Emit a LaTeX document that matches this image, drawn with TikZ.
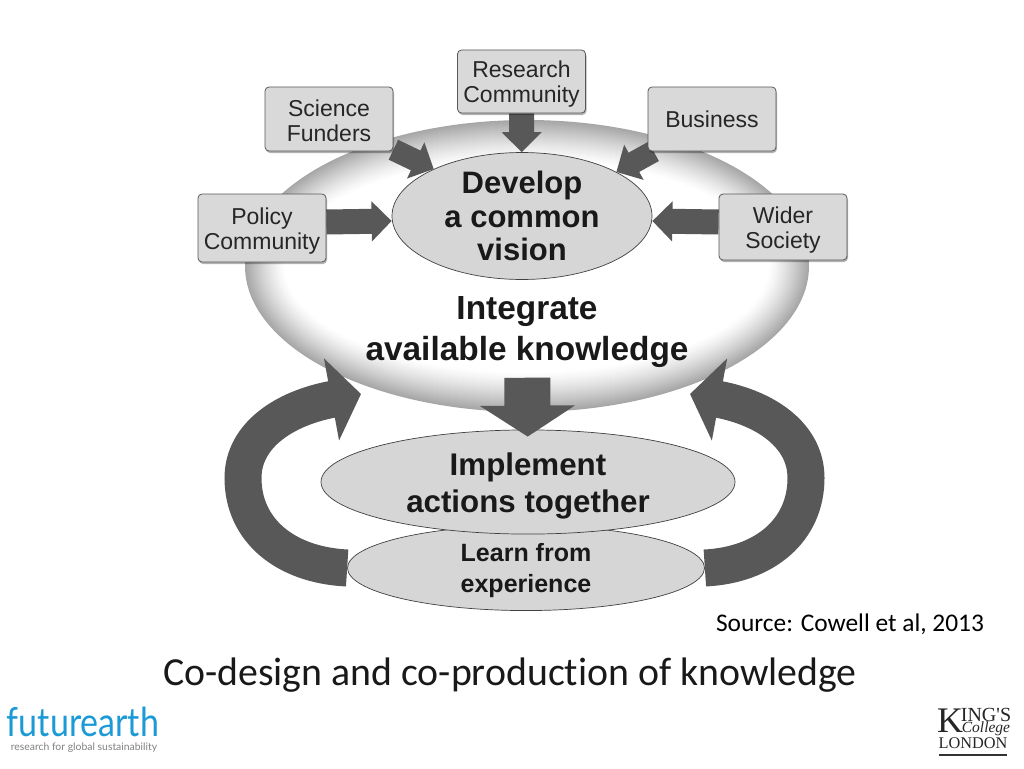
\documentclass[tikz,border=0pt]{standalone}
\usepackage{fontspec}
\setmainfont{Liberation Sans}
\newfontfamily\calibrifont[Ligatures=NoCommon]{Carlito}
\newfontfamily\logofont{Lato}
\newfontfamily\kingsfont{Liberation Serif}
\usetikzlibrary{arrows.meta,shapes.geometric,shadows,backgrounds}
\definecolor{boxgray}{HTML}{D9D9D9}
\definecolor{ovalgray}{HTML}{D6D6D6}
\definecolor{flowgray}{HTML}{585858}
\definecolor{futureblue}{HTML}{1B9AD6}
\newcommand{\firstline}[1]{\rule{0pt}{#1}}
\tikzset{
  partybox/.style={draw=black!65,fill=boxgray,rounded corners=4pt,line width=.8pt,
    minimum width=128pt,inner sep=0pt,align=center,text=black!85,
    font=\fontsize{23}{25}\selectfont,
    drop shadow={shadow xshift=1pt,shadow yshift=-2pt,opacity=.3,fill=black}},
  stageoval/.style={draw=black!75,fill=ovalgray,ellipse,inner sep=0pt,line width=.7pt,
    align=center,text=black!90},
  flow/.style={draw=flowgray,line width=#1},
  flowtip/.style n args={2}{-{Triangle[length=#1,width=#2]}},
  plain/.style={inner sep=0pt}
}
\begin{document}
\begin{tikzpicture}[x=1pt,y=-1pt]
\useasboundingbox (0,0) rectangle (1024,768);
% the five parties
\node[partybox,minimum height=63pt] (research) at (521.5,81.5) {\firstline{22pt}Research\\Community};
\node[partybox,minimum height=64pt] (science) at (329,119) {\firstline{20pt}Science\\Funders};
\node[partybox,minimum height=64pt] (business) at (712,119) {Business};
\node[partybox,minimum height=68pt] (policy) at (262,228) {\firstline{22pt}Policy\\Community};
\node[partybox,minimum height=66pt] (wider) at (783,227) {\firstline{22pt}Wider\\Society};
% the ovals
\node[stageoval,minimum width=260pt,minimum height=124pt,
  font=\fontsize{31}{33.5}\selectfont\bfseries] (vision) at (522,216) {Develop\\a common\\vision};
\node[plain,align=center,font=\fontsize{33.4}{41}\selectfont\bfseries,text=black!90]
  (integrate) at (527,332) {Integrate\\available knowledge};
\node[stageoval,minimum width=357pt,minimum height=80pt,
  font=\fontsize{25}{31}\selectfont\bfseries] (learn) at (526,568) {\firstline{24pt}Learn from\\experience};
\node[stageoval,minimum width=414pt,minimum height=104pt,
  font=\fontsize{31.3}{37}\selectfont\bfseries] (implement) at (528,482) {\firstline{30pt}Implement\\actions together};
\coordinate (lefttip) at (361,394);
\coordinate (righttip) at (690,394);
\begin{pgfonlayer}{background}
% soft grey rim of the large oval
\foreach \t in {0,1,...,40} {
  \pgfmathsetmacro{\rimgray}{35*(1-\t/40)^1.3}
  \fill[black!\rimgray] (527,266) ellipse ({282-\t} and {146-\t});
}
\draw[flow=25pt,flowtip={20pt}{39pt}] (research) -- (vision);
\draw[flow=22pt,flowtip={20pt}{39pt}] (science) -- (vision.152.5);
\draw[flow=22pt,flowtip={20pt}{39pt}] (business) -- (vision.25);
\draw[flow=25pt,flowtip={20pt}{39pt}] ([yshift=6pt]policy.east) -- ([yshift=-5pt]vision.west);
\draw[flow=25pt,flowtip={20pt}{39pt}] ([yshift=5pt]wider.west) -- ([yshift=-5pt]vision.east);
\draw[flow=37pt,flowtip={30pt}{82pt}] (learn.west) .. controls (285,565) and (243,530) .. (243,478)
  .. controls (243,435) and (285,408) .. (lefttip);
\draw[flow=37pt,flowtip={30pt}{82pt}] (learn.east) .. controls (765,565) and (806,530) .. (806,478)
  .. controls (806,435) and (765,408) .. (righttip);
\end{pgfonlayer}
\draw[flow=46pt,flowtip={31pt}{94pt},shorten <=10pt,shorten >=-7pt] (integrate) -- (implement);
% slide texts
\node[plain,font=\calibrifont\fontsize{25.4}{28}\selectfont,text=black] (source) at (850,624) {Source: Cowell et al, 2013};
\node[plain,font=\calibrifont\fontsize{39.8}{44}\selectfont,text=black!90] (caption) at (510,675) {Co-design and co-production of knowledge};
% logos
\node[plain,font=\logofont\fontsize{40}{44}\selectfont,text=futureblue] (future) at (83,722) {\scalebox{.85}[1]{futurearth}};
\node[plain,font=\logofont\fontsize{10.4}{13}\selectfont,text=black!50] (strap) at (84,748) {research for global sustainability};
\node[plain,font=\kingsfont\fontsize{36}{40}\selectfont,text=black!85] (kingk) at (950,721) {K};
\node[plain,font=\kingsfont\fontsize{20}{22}\selectfont,text=black!85] (kings) at (986,715) {ING'S};
\node[plain,font=\kingsfont\itshape\fontsize{15.5}{18}\selectfont,text=black!85] (college) at (986,729) {College};
\node[plain,font=\kingsfont\fontsize{16.3}{18}\selectfont,text=black!85] (london) at (973,743) {LONDON};
\draw[black!80,line width=2.5pt] (939,755) -- (1007,755);
\end{tikzpicture}
\end{document}
